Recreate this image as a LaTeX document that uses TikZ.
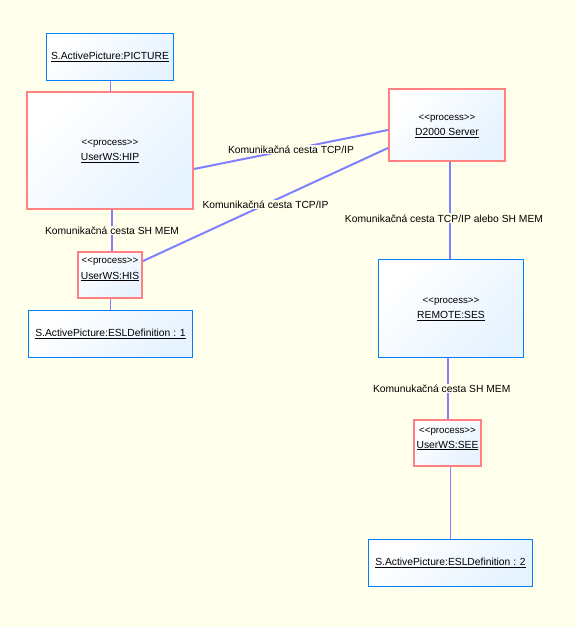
\documentclass[tikz,border=0pt]{standalone}
\usepackage{fontspec}
\setmainfont{Liberation Sans}
\usetikzlibrary{calc}
\definecolor{hintergrund}{RGB}{255,255,236}
\definecolor{rahmenblau}{RGB}{0,128,255}
\definecolor{rahmenrot}{RGB}{255,128,128}
\definecolor{kasten}{RGB}{230,243,255}
\definecolor{pfad}{RGB}{128,128,255}
\newcommand{\prozesstyp}{<{}<process>{}>}

\begin{document}
\begin{tikzpicture}[x=1pt, y=-1pt, font=\fontsize{10.3}{12}\selectfont,
    objekt/.style={draw=rahmenblau, line width=1pt, top color=white, bottom color=kasten, shading angle=45, inner sep=0pt},
    prozess/.style={objekt, draw=rahmenrot, line width=2pt},
    stereotyp/.style={font=\fontsize{9.7}{11}\selectfont},
    verbindung/.style={pfad, line width=2pt},
    duenn/.style={pfad, line width=1pt},
    beschriftung/.style={fill=hintergrund, text=black, inner sep=1pt}]

    \fill[hintergrund] (0,0) rectangle (576,627);
    \useasboundingbox (0,0) rectangle (576,627);

    % linke Seite
    \node[objekt, minimum width=127pt, minimum height=47pt] (picture) at (110,57) {\underline{S.ActivePicture:PICTURE}};
    \node[prozess, minimum width=166pt, minimum height=117pt] (hip) at (110,150.5) {};
    \node[stereotyp] (hip-st) at ([yshift=6.5pt]hip.center) {\prozesstyp};
    \node (hip-name) at ([yshift=-7.5pt]hip.center) {\underline{UserWS:HIP}};
    \node[prozess, minimum width=64pt, minimum height=46pt] (his) at (110,275) {};
    \node[stereotyp] (his-st) at ([yshift=13pt]his.center) {\prozesstyp};
    \node (his-name) at ([yshift=-1.5pt]his.center) {\underline{UserWS:HIS}};
    \node[objekt, minimum width=164pt, minimum height=47pt] (esl1) at (110.5,334) {\underline{S.ActivePicture:ESLDefinition : 1}};

    % rechte Seite
    \node[prozess, minimum width=116pt, minimum height=72pt] (d2000) at (447,125) {};
    \node[stereotyp] (d2000-st) at ([yshift=6pt]d2000.center) {\prozesstyp};
    \node (d2000-name) at ([yshift=-8pt]d2000.center) {\underline{D2000 Server}};
    \node[objekt, minimum width=145pt, minimum height=98pt] (ses) at (451,308.5) {};
    \node[stereotyp] (ses-st) at ([yshift=7pt]ses.center) {\prozesstyp};
    \node (ses-name) at ([yshift=-7.5pt]ses.center) {\underline{REMOTE:SES}};
    \node[prozess, minimum width=67pt, minimum height=46pt] (see) at (447.5,443) {};
    \node[stereotyp] (see-st) at ([yshift=11.5pt]see.center) {\prozesstyp};
    \node (see-name) at ([yshift=-2.5pt]see.center) {\underline{UserWS:SEE}};
    \node[objekt, minimum width=164pt, minimum height=47pt] (esl2) at (450.5,563) {\underline{S.ActivePicture:ESLDefinition : 2}};

    % Verbindungen
    \draw[duenn] (picture) -- (hip);
    \draw[verbindung] ([xshift=2pt]hip.south) -- node[beschriftung] (weg-hip-his) {Komunikačná cesta SH MEM} ([xshift=2pt]hip.south |- his.north);
    \draw[duenn] (his) -- (his |- esl1.north);
    \draw[verbindung] ([yshift=-18.5pt]hip.east) -- node[beschriftung] (weg-hip-d2000) {Komunikačná cesta TCP/IP} ([yshift=-5pt]d2000.west);
    \draw[verbindung] ([yshift=14pt]his.east) -- node[beschriftung] (weg-his-d2000) {Komunikačná cesta TCP/IP} ([yshift=-23pt]d2000.west);
    \draw[verbindung] ([xshift=3pt]d2000.south) -- node[beschriftung, pos=0.58, xshift=-6pt] (weg-d2000-ses) {Komunikačná cesta TCP/IP alebo SH MEM} ([xshift=3pt]d2000.south |- ses.north);
    \draw[verbindung] ([xshift=-3.3pt]ses.south) -- node[beschriftung, xshift=-6pt] (weg-ses-see) {Komunukačná cesta SH MEM} ([xshift=-3.3pt]ses.south |- see.north);
    \draw[duenn] ([xshift=2.5pt]see.south) -- ([xshift=2.5pt]see.south |- esl2.north);

\end{tikzpicture}
\end{document}
